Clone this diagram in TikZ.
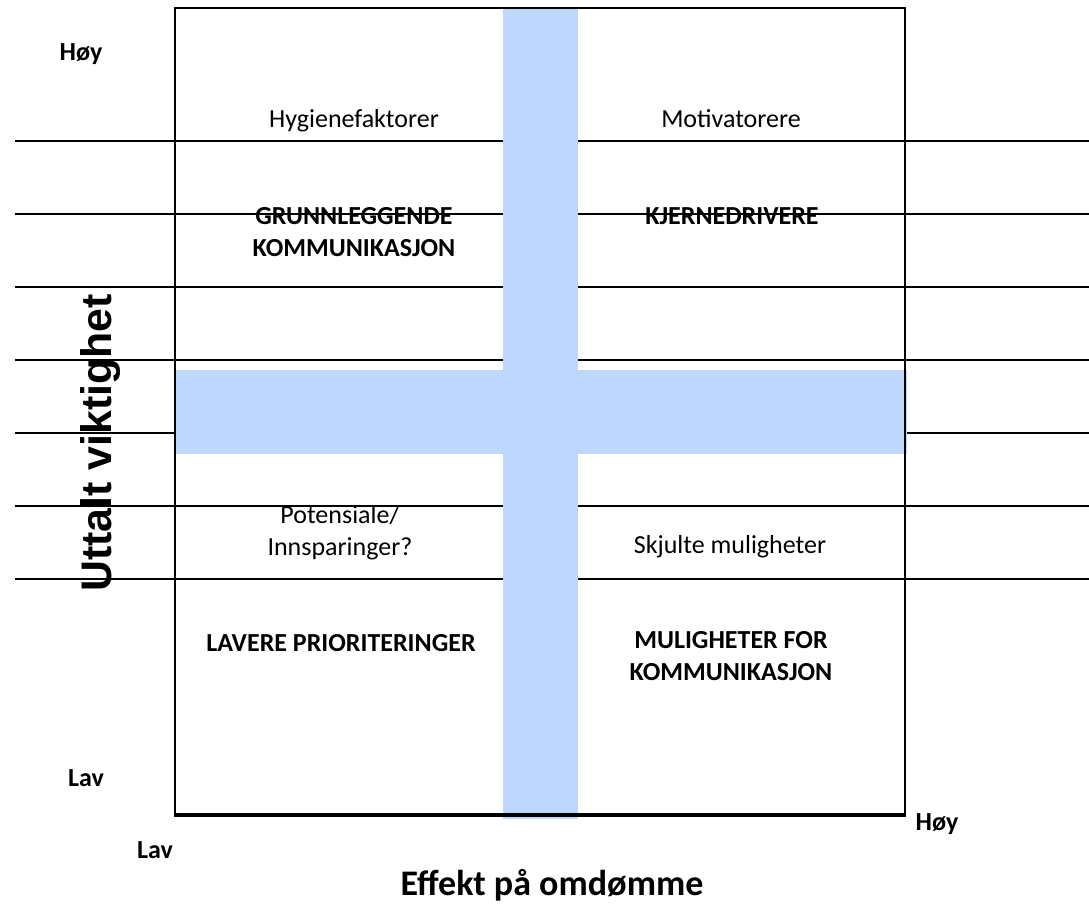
\documentclass[tikz,border=0pt]{standalone}
\usepackage{fontspec}
\setmainfont{Carlito}
\newfontfamily\axisfont{Liberation Sans}
\usepackage{tikz}
\definecolor{bandblue}{RGB}{190,215,252}

\begin{document}
\begin{tikzpicture}[x=1pt, y=-1pt,
  gridline/.style={black, line width=1.2pt},
  band/.style={fill=bandblue, draw=none},
  quadtext/.style={font=\fontsize{26}{32}\selectfont, align=center, anchor=base, inner sep=0pt},
  quadbold/.style={quadtext, font=\fontsize{26}{32}\selectfont\bfseries},
  levellabel/.style={font=\fontsize{26}{30}\selectfont\bfseries, anchor=base, inner sep=0pt}]
\useasboundingbox (0,0) rectangle (1089,904);
% horizontal rules behind the matrix
\foreach \y in {141,214,287,360,433,506,579}
  \draw[gridline] (15,\y) -- (1089,\y);
% the blue cross
\fill[band] (503,8) rectangle (578,819);
\fill[band] (175,370) rectangle (907,454);
% frame
\draw[line width=2.5pt] (175,815) -- (175,8) -- (905,8) -- (905,815);
\draw[line width=3.5pt] (174,815) -- (906,815);
% quadrant texts (base = last line)
\node[quadtext] (hyg) at (354,128) {Hygienefaktorer};
\node[quadtext] (mot) at (731,128) {Motivatorere};
\node[quadbold] (grunn) at (354,256) {GRUNNLEGGENDE\\KOMMUNIKASJON};
\node[quadbold] (kjerne) at (732,225) {KJERNEDRIVERE};
\node[quadtext] (pot) at (340,555) {Potensiale/\\Innsparinger?};
\node[quadtext] (skjult) at (730,553) {Skjulte muligheter};
\node[quadbold] (lavere) at (341,651) {LAVERE PRIORITERINGER};
\node[quadbold] (mulig) at (731,680) {MULIGHETER FOR\\KOMMUNIKASJON};
% axis labels
\node[levellabel] (yhigh) at (81,61) {Høy};
\node[levellabel] (ylow) at (86,786) {Lav};
\node[levellabel] (xlow) at (155,858) {Lav};
\node[levellabel] (xhigh) at (937,830) {Høy};
\node[font=\fontsize{36}{40}\selectfont\bfseries, anchor=base, inner sep=0pt] (xtitle) at (552,895) {Effekt på omdømme};
\node[font=\axisfont\fontsize{42.8}{48}\selectfont\bfseries, rotate=90, anchor=base, inner sep=0pt] (ytitle) at (111,443) {Uttalt viktighet};
\end{tikzpicture}
\end{document}
